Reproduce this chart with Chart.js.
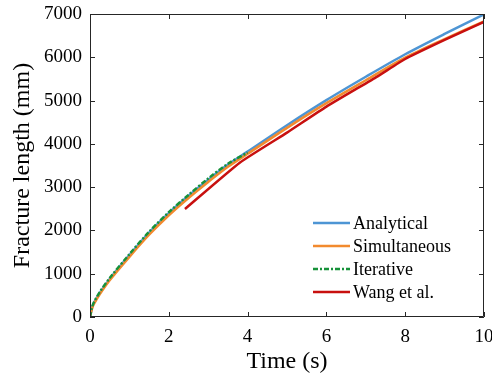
<!DOCTYPE html>
<html>
<head>
<meta charset="utf-8">
<script src="https://cdn.jsdelivr.net/npm/chart.js@4/dist/chart.umd.min.js"></script>
<style>
  html, body { margin: 0; padding: 0; background: #fff; }
  #wrap { width: 492px; height: 376px; }
</style>
</head>
<body>
<div id="wrap"><canvas id="chart" width="492" height="376"></canvas></div>
<script>
// values (time in s, length in mm)
const timeFull = [0, 0.05, 0.1, 0.25, 0.5, 1, 1.5, 2, 2.5, 3, 3.5, 4, 5, 6, 7, 8, 9, 10];
const analytical = [0, 210, 330, 560, 880, 1430, 1950, 2400, 2800, 3170, 3520, 3820, 4430, 5010, 5550, 6070, 6540, 6990];
const simultaneous = [0, 190, 300, 530, 850, 1390, 1900, 2350, 2750, 3120, 3470, 3770, 4370, 4940, 5470, 5990, 6420, 6830];

const timeIter = [0, 0.05, 0.1, 0.25, 0.5, 1, 1.5, 2, 2.5, 3, 3.5, 4];
const iterative = [0, 220, 340, 580, 900, 1450, 1970, 2420, 2820, 3200, 3540, 3800];

const timeWang = [2.41, 3.8, 5, 6, 7.3, 8, 9, 10];
const wang = [2495, 3565, 4260, 4860, 5560, 5960, 6400, 6820];

const xTicks = [0, 2, 4, 6, 8, 10];
const yTicks = [0, 1000, 2000, 3000, 4000, 5000, 6000, 7000];

const axisColor = "#262626";
const serif = "'Liberation Serif', 'Times New Roman', serif";

function pairs(xs, ys) {
    return xs.map((x, i) => ({ x: x, y: ys[i] }));
}

// frame with inward ticks on all four sides
const framePlugin = {
    id: "frame",
    afterDatasetsDraw(chart) {
        const ctx = chart.ctx;
        const a = chart.chartArea;
        const xs = chart.scales.x;
        const ys = chart.scales.y;
        const len = 5;
        ctx.save();
        ctx.strokeStyle = axisColor;
        ctx.lineWidth = 1;
        ctx.beginPath();
        ctx.rect(a.left + 0.5, a.top + 0.5, a.right - a.left - 1, a.bottom - a.top - 1);
        xTicks.forEach(v => {
            const px = Math.round(xs.getPixelForValue(v)) + 0.5;
            ctx.moveTo(px, a.bottom);
            ctx.lineTo(px, a.bottom - len);
            ctx.moveTo(px, a.top);
            ctx.lineTo(px, a.top + len);
        });
        yTicks.forEach(v => {
            const py = Math.round(ys.getPixelForValue(v)) + 0.5;
            ctx.moveTo(a.left, py);
            ctx.lineTo(a.left + len, py);
            ctx.moveTo(a.right, py);
            ctx.lineTo(a.right - len, py);
        });
        ctx.stroke();
        ctx.restore();
    }
};

// legend inside the axes, lower right
const legendPlugin = {
    id: "innerLegend",
    afterDraw(chart) {
        const ctx = chart.ctx;
        const a = chart.chartArea;
        const x0 = a.right - 171;
        const x1 = a.right - 134;
        const tx = a.right - 131;
        ctx.save();
        ctx.font = "18px " + serif;
        ctx.textBaseline = "middle";
        ctx.fillStyle = "#000";
        chart.data.datasets.forEach((ds, i) => {
            const y = a.bottom - 94 + i * 23;
            ctx.strokeStyle = ds.borderColor;
            ctx.lineWidth = ds.borderWidth;
            ctx.setLineDash(ds.borderDash || []);
            ctx.beginPath();
            ctx.moveTo(x0, y);
            ctx.lineTo(x1, y);
            ctx.stroke();
            ctx.setLineDash([]);
            ctx.fillText(ds.label, tx, y + 1);
        });
        ctx.restore();
    }
};

new Chart(document.getElementById("chart").getContext("2d"), {
    type: "line",
    data: {
        datasets: [
            {
                label: "Analytical",
                data: pairs(timeFull, analytical),
                borderColor: "#4d95d4",
                borderWidth: 2.5,
                order: 4
            },
            {
                label: "Simultaneous",
                data: pairs(timeFull, simultaneous),
                borderColor: "#f28a2e",
                borderWidth: 2.5,
                order: 3
            },
            {
                label: "Iterative",
                data: pairs(timeIter, iterative),
                borderColor: "#17923a",
                borderWidth: 2.5,
                borderDash: [5, 2, 2, 2],
                order: 2
            },
            {
                label: "Wang et al.",
                data: pairs(timeWang, wang),
                borderColor: "#c8100f",
                borderWidth: 2.5,
                tension: 0.15,
                order: 1
            }
        ]
    },
    options: {
        responsive: false,
        animation: false,
        events: [],
        layout: { padding: { top: 14, right: 8, left: 0, bottom: 0 } },
        elements: {
            point: { radius: 0 },
            line: { tension: 0.3, fill: false }
        },
        plugins: {
            legend: { display: false },
            tooltip: { enabled: false }
        },
        scales: {
            x: {
                type: "linear",
                min: 0,
                max: 10,
                afterFit: s => {
                    s.height = 59;
                    s.paddingLeft = 0;
                    s.paddingRight = 0;
                },
                afterBuildTicks: s => { s.ticks = xTicks.map(v => ({ value: v })); },
                grid: { display: false, drawTicks: false },
                border: { display: false },
                ticks: {
                    color: "#000",
                    padding: 9,
                    font: { family: serif, size: 19 },
                    callback: v => String(v)
                },
                title: {
                    display: true,
                    text: "Time (s)",
                    color: "#000",
                    padding: { top: 0, bottom: 0 },
                    font: { family: serif, size: 24 }
                }
            },
            y: {
                min: 0,
                max: 7000,
                afterFit: s => {
                    s.width = 90;
                    s.paddingTop = 0;
                    s.paddingBottom = 0;
                },
                afterBuildTicks: s => { s.ticks = yTicks.map(v => ({ value: v })); },
                grid: { display: false, drawTicks: false },
                border: { display: false },
                ticks: {
                    color: "#000",
                    padding: 8,
                    font: { family: serif, size: 19 },
                    callback: v => String(v)
                },
                title: {
                    display: true,
                    text: "Fracture length (mm)",
                    color: "#000",
                    padding: { top: 8, bottom: 0 },
                    font: { family: serif, size: 24 }
                }
            }
        }
    },
    plugins: [framePlugin, legendPlugin]
});
</script>
</body>
</html>
